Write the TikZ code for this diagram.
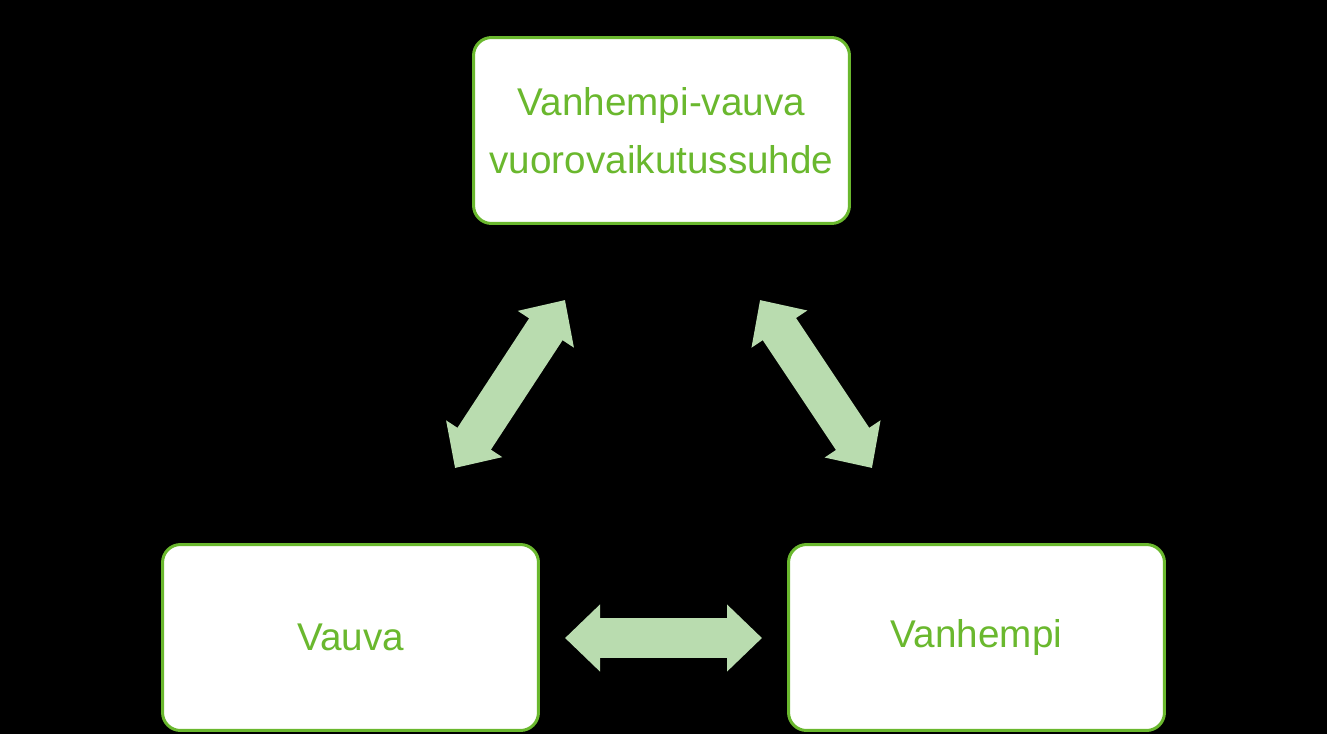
\documentclass[tikz,border=0pt]{standalone}
\usepackage{fontspec}
\setmainfont{Liberation Sans}
\usepackage{xcolor}
\usetikzlibrary{arrows.meta}
\definecolor{boxgreen}{HTML}{6AB82E}
\definecolor{arrowgreen}{HTML}{B9DCAF}
\tikzset{
  box/.style={draw=boxgreen, line width=0.06cm, fill=white, rounded corners=0.36cm,
    minimum width=7.52cm, minimum height=3.72cm, text=boxgreen, align=center,
    font=\fontsize{22}{33}\selectfont},
  link/.style={draw=arrowgreen, line width=0.8cm,
    {Triangle[width=1.3cm,length=0.7cm]}-{Triangle[width=1.3cm,length=0.7cm]}}
}
\begin{document}
\begin{tikzpicture}[x=0.02cm,y=-0.02cm]
\fill[black] (0,0) rectangle (1327,734);
\useasboundingbox (0,0) rectangle (1327,734);

% Boxes
\node [box] (pair) at (661.5,130.5) {Vanhempi-vauva\\vuorovaikutussuhde};
\node [box] (baby) at (350.5,637.5) {Vauva};
\node [box] (parent) at (976.5,637.5) {Vanhempi};

% Arrow ends
\coordinate (bl) at (455,468);
\coordinate (tl) at (565,300);
\coordinate (tr) at (760,300);
\coordinate (br) at (872,468);
\coordinate (hl) at (565,638);
\coordinate (hr) at (762,638);

% Double arrows
\draw [link] (bl) -- (tl);
\draw [link] (tr) -- (br);
\draw [link] (hl) -- (hr);

\end{tikzpicture}
\end{document}
